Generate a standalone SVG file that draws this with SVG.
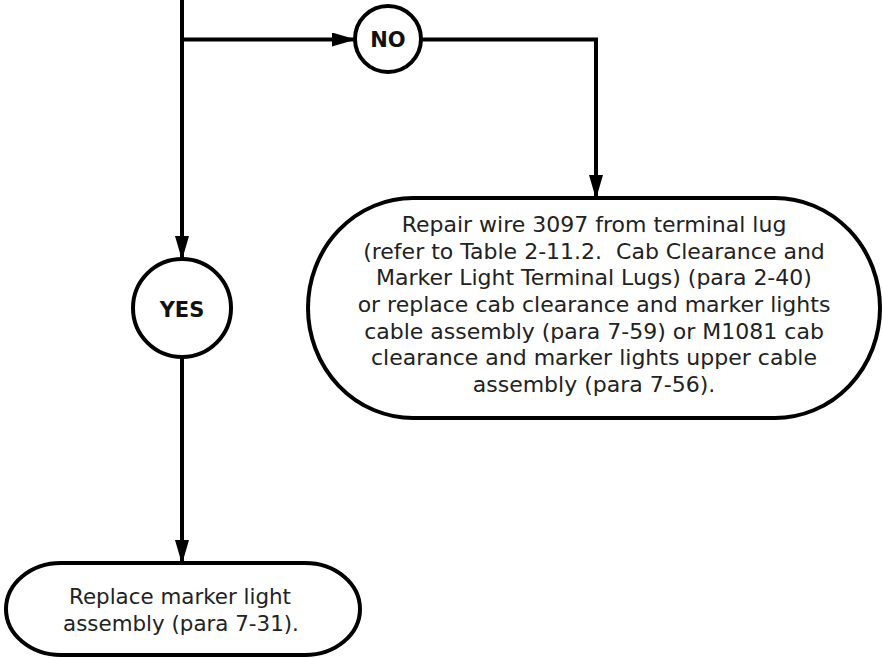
<svg xmlns="http://www.w3.org/2000/svg" width="882" height="658" viewBox="0 0 882 658">
<style>
.ln{fill:none;stroke:#000;stroke-width:4}
.nd{fill:#fff;stroke:#000;stroke-width:4}
.t{font-family:"DejaVu Sans",sans-serif;font-size:22px;fill:#222;text-anchor:middle}
.s{font-size:21.4px}
.b{font-family:"DejaVu Sans",sans-serif;font-size:21px;font-weight:bold;fill:#111;text-anchor:middle}
</style>
<defs>
<marker id="ah" markerUnits="userSpaceOnUse" markerWidth="24" markerHeight="14" viewBox="0 0 24 14" refX="23" refY="7" orient="auto">
<path d="M0,0 L24,7 L0,14 z" fill="#000"/>
</marker>
</defs>
<rect width="882" height="658" fill="#fff"/>
<g id="connectors">
<path class="ln" d="M182,0 V259" marker-end="url(#ah)"/>
<path class="ln" d="M182,39.5 H355" marker-end="url(#ah)"/>
<path class="ln" d="M421,39.5 H596 V198" marker-end="url(#ah)"/>
<path class="ln" d="M182,357 V563" marker-end="url(#ah)"/>
</g>
<g id="no">
<circle class="nd" cx="388" cy="39" r="33"/>
<text class="b" x="388" y="47">NO</text>
</g>
<g id="yes">
<circle class="nd" cx="182" cy="308" r="49"/>
<text class="b" x="182" y="317">YES</text>
</g>
<g id="repair">
<rect class="nd" x="308" y="198" width="572" height="220" rx="105" ry="110"/>
<text class="t" x="594" y="232">Repair wire 3097 from terminal lug</text>
<text class="t" x="594" y="258.7" xml:space="preserve">(refer to Table 2-11.2.  Cab Clearance and</text>
<text class="t" x="594" y="285.3">Marker Light Terminal Lugs) (para 2-40)</text>
<text class="t" x="594" y="312">or replace cab clearance and marker lights</text>
<text class="t" x="594" y="338.7">cable assembly (para 7-59) or M1081 cab</text>
<text class="t" x="594" y="365.3">clearance and marker lights upper cable</text>
<text class="t" x="594" y="392">assembly (para 7-56).</text>
</g>
<g id="replace">
<rect class="nd" x="6" y="563" width="354" height="92" rx="55" ry="46"/>
<text class="t s" x="180" y="604">Replace marker light</text>
<text class="t s" x="181" y="631">assembly (para 7-31).</text>
</g>
</svg>
